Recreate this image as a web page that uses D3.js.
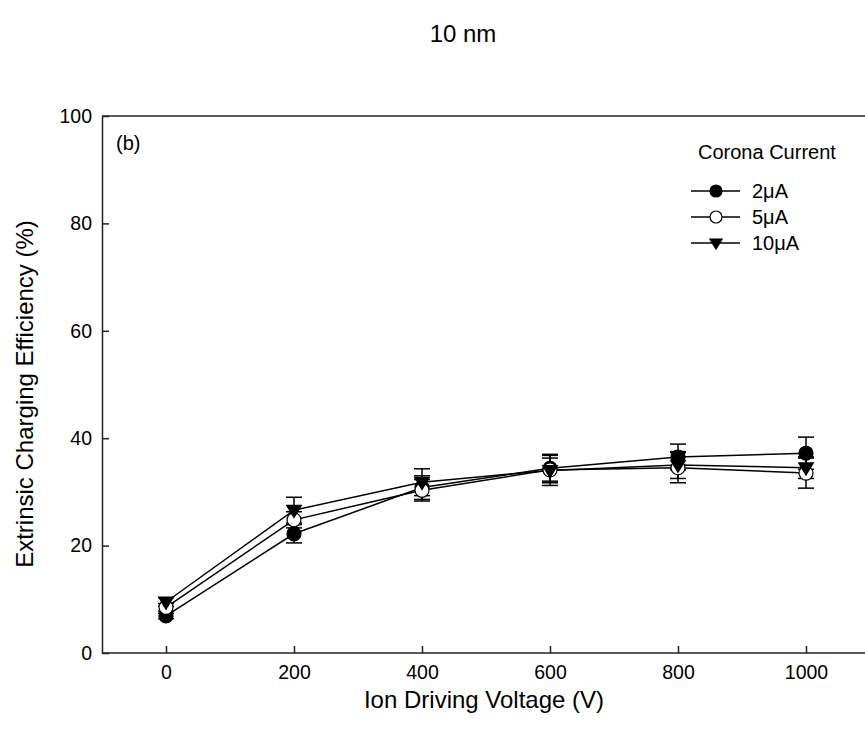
<!DOCTYPE html>
<html><head><meta charset="utf-8">
<script src="https://cdn.jsdelivr.net/npm/d3@7"></script>
<style>body{margin:0;background:#fff}svg{font-family:"Liberation Sans",Arial,sans-serif}</style>
</head><body><svg id="c" width="865" height="740"></svg>
<script>
const voltages = [0, 200, 400, 600, 800, 1000];
const series2uA = [6.9, 22.2, 30.8, 34.4, 36.5, 37.2];
const err2uA = [0.5, 1.7, 2.2, 2.4, 2.4, 3.0];
const series5uA = [8.5, 24.8, 30.3, 34.1, 34.5, 33.5];
const err5uA = [0.7, 1.5, 2.0, 2.9, 2.8, 2.8];
const series10uA = [9.5, 26.6, 31.8, 34.0, 35.0, 34.5];
const err10uA = [0.8, 2.4, 2.5, 2.3, 2.5, 2.0];
const seriesNames = ["2\u03bcA", "5\u03bcA", "10\u03bcA"];
const xTicks = [0, 200, 400, 600, 800, 1000];
const yTicks = [0, 20, 40, 60, 80, 100];

const FONT = "Liberation Sans, Arial, sans-serif";
const svg = d3.select("#c");
const L = 102, R = 865, T = 116, B = 653;
const x = d3.scaleLinear().domain([0, 1000]).range([166, 806]);
const y = d3.scaleLinear().domain([0, 100]).range([B, T]);

svg.append("line").attr("x1", L).attr("x2", R).attr("y1", T).attr("y2", T).attr("stroke", "#222").attr("stroke-width", 1.5);

const xAxis = d3.axisBottom(x).tickValues(xTicks).tickFormat(d3.format("d")).tickSizeInner(-7).tickSizeOuter(0).tickPadding(12);
const gx = svg.append("g").attr("transform", `translate(0,${B})`).call(xAxis);
gx.select(".domain").remove();
gx.append("line").attr("x1", L).attr("x2", R).attr("stroke", "#222").attr("stroke-width", 1.5);
gx.selectAll(".tick line").attr("stroke", "#222").attr("stroke-width", 1.5);
gx.selectAll("text").attr("font-size", 19.5).attr("fill", "#000").attr("font-family", FONT);

const yAxis = d3.axisLeft(y).tickValues(yTicks).tickSizeInner(-7).tickSizeOuter(0).tickPadding(10);
const gy = svg.append("g").attr("transform", `translate(${L},0)`).call(yAxis);
gy.select(".domain").attr("stroke", "#222").attr("stroke-width", 1.5);
gy.selectAll(".tick line").attr("stroke", "#222").attr("stroke-width", 1.5);
gy.selectAll("text").attr("font-size", 19.5).attr("fill", "#000").attr("font-family", FONT);

const data = [
  {vals: series2uA, errs: err2uA, type: "filled"},
  {vals: series5uA, errs: err5uA, type: "open"},
  {vals: series10uA, errs: err10uA, type: "tri"}
];

const line = d3.line().x((d, i) => x(voltages[i])).y(d => y(d));
const capW = 8;
data.forEach(s => {
  const eb = svg.append("g").attr("stroke", "#000").attr("stroke-width", 1.5);
  s.vals.forEach((v, i) => {
    const cx = x(voltages[i]);
    const hi = y(v + s.errs[i]), lo = y(v - s.errs[i]);
    eb.append("line").attr("x1", cx).attr("x2", cx).attr("y1", hi).attr("y2", lo);
    eb.append("line").attr("x1", cx - capW).attr("x2", cx + capW).attr("y1", hi).attr("y2", hi);
    eb.append("line").attr("x1", cx - capW).attr("x2", cx + capW).attr("y1", lo).attr("y2", lo);
  });
});
data.forEach(s => {
  svg.append("path").datum(s.vals).attr("d", line).attr("fill", "none").attr("stroke", "#000").attr("stroke-width", 1.5);
});

function marker(sel, type, cx, cy, r) {
  if (type === "tri") {
    const w = r * 1.2, h = r * 1.1;
    sel.append("path").attr("d", `M${cx - w},${cy - h * 0.7}L${cx + w},${cy - h * 0.7}L${cx},${cy + h * 1.1}Z`).attr("fill", "#000");
  } else {
    sel.append("circle").attr("cx", cx).attr("cy", cy).attr("r", r)
      .attr("fill", type === "filled" ? "#000" : "#fff").attr("stroke", "#000").attr("stroke-width", 1.2);
  }
}
data.forEach(s => {
  const mg = svg.append("g");
  s.vals.forEach((v, i) => marker(mg, s.type, x(voltages[i]), y(v), 7));
});

const lg = svg.append("g").attr("font-family", FONT);
lg.append("text").attr("x", 698).attr("y", 159).attr("font-size", 20).text("Corona Current");
const rowY = [191, 217, 243];
data.forEach((s, i) => {
  lg.append("line").attr("x1", 691).attr("x2", 740).attr("y1", rowY[i]).attr("y2", rowY[i]).attr("stroke", "#000").attr("stroke-width", 1.5);
  marker(lg, s.type, 716, rowY[i], 6);
  lg.append("text").attr("x", 752).attr("y", rowY[i] + 7).attr("font-size", 20).text(seriesNames[i]);
});

svg.append("text").attr("x", 116).attr("y", 150).attr("font-size", 20).text("(b)");
svg.append("text").attr("x", 463).attr("y", 42).attr("text-anchor", "middle").attr("font-size", 24).text("10 nm");
svg.append("text").attr("x", 484).attr("y", 708).attr("text-anchor", "middle").attr("font-size", 24).text("Ion Driving Voltage (V)");
svg.append("text").attr("transform", "translate(33,394) rotate(-90)").attr("text-anchor", "middle").attr("font-size", 24).text("Extrinsic Charging Efficiency (%)");
</script></body></html>
